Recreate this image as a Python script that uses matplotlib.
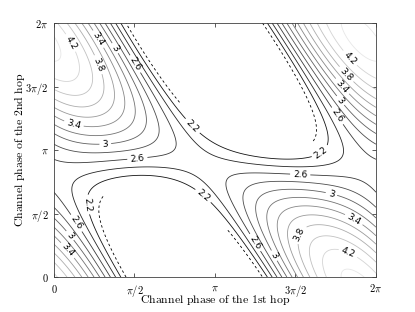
import numpy as np
import matplotlib.pyplot as plt

plt.rcParams['mathtext.fontset'] = 'cm'

# points (phases in units of pi) and their level
phase1 = [0.068, 0.286, 0.39, 0.52, 0.27, 0.12, 0.32, 0.845, 0.52,
          0.18, 0.149, 0.118, 0.087,
          1.86, 1.81, 1.78, 1.76, 1.75, 1.66,
          1.53, 1.73, 1.87, 1.54, 1.80,
          0.94, 1.20, 1.32,
          0.46, 1.38, 0.0, 0.0, 0.0, 0.94,
          0.72, 0.72, 1.06, 1.14, 1.06, 0.10, 0.40, 1.30, 1.78,
          0.50, 0.66, 0.80, 1.35, 1.49, 1.62, 0.25, 0.33]
phase2 = [1.819, 1.882, 1.81, 1.69, 1.67, 1.19, 1.02, 1.17, 0.906,
          0.567, 0.433, 0.346, 0.213,
          1.75, 1.59, 1.49, 1.37, 1.26, 0.976,
          0.827, 0.69, 0.47, 0.33, 0.11,
          0.66, 0.28, 0.17,
          2.0, 2.0, 0.92, 1.06, 1.24, 0.87,
          0.88, 0.82, 0.96, 0.827, 0.61, 0.75, 0.80, 0.96, 1.13,
          1.86, 1.58, 1.32, 1.92, 1.62, 1.30, 0.42, 0.20]
rate = [4.2, 3.4, 3.0, 2.6, 3.8, 3.4, 3.0, 2.2, 2.6,
        2.2, 2.6, 3.0, 3.4,
        4.2, 3.8, 3.4, 3.0, 2.6, 2.2,
        2.6, 3.0, 3.4, 3.8, 4.2,
        2.2, 2.6, 3.0,
        2.2, 2.2, 2.6, 3.0, 3.4, 2.5,
        2.2, 2.4, 2.2, 2.6, 2.6, 2.2, 2.2, 2.2, 2.2,
        2.0, 2.0, 2.0, 2.0, 2.0, 2.0, 2.0, 2.0]

# where the contour labels go
label_x = [0.068, 0.286, 0.39, 0.52, 0.27, 0.12, 0.32, 0.845, 0.52,
           0.18, 0.149, 0.118, 0.087,
           1.86, 1.81, 1.78, 1.76, 1.75, 1.66,
           1.53, 1.73, 1.87, 1.54, 1.80,
           0.94, 1.26, 1.37]
label_y = [1.819, 1.882, 1.81, 1.69, 1.67, 1.19, 1.02, 1.17, 0.906,
           0.567, 0.433, 0.346, 0.213,
           1.75, 1.59, 1.49, 1.37, 1.26, 0.976,
           0.827, 0.69, 0.47, 0.33, 0.11,
           0.66, 0.28, 0.17]

label_levels = [2.2, 2.6, 3.0, 3.4, 3.8, 4.2]
plain_levels = [2.4, 2.8, 3.2, 3.6, 4.0, 4.4]
rate_floor = 2.0


def basis(t1, t2):
    cols = [np.ones_like(t1)]
    for arg in (t1, t1 + t2, t2, 2 * t1 + t2):
        cols += [np.cos(arg), np.sin(arg)]
    return np.stack(cols, axis=-1)


t1 = np.pi * np.array(phase1)
t2 = np.pi * np.array(phase2)
coef = np.linalg.lstsq(basis(t1, t2), np.array(rate), rcond=None)[0]

grid = np.linspace(0, 2 * np.pi, 401)
T1, T2 = np.meshgrid(grid, grid)
R = basis(T1, T2) @ coef
Z = np.maximum(R, rate_floor)

# the floor line only shows up along the steep flanks in the reference
dR2, dR1 = np.gradient(R, grid, grid)
R_flank = np.ma.masked_where(np.abs(dR1) < 1.5 * np.abs(dR2), R)

fig = plt.figure(figsize=(4.15, 3.12), dpi=100)
ax = fig.add_axes([0.130, 0.112, 0.776, 0.814])

kw = dict(cmap='gray', vmin=2.0, vmax=4.65, linewidths=0.6)
ax.contour(T1, T2, Z, levels=plain_levels, **kw)
cs = ax.contour(T1, T2, Z, levels=label_levels, **kw)
ax.contour(T1, T2, R_flank, levels=[rate_floor], colors='k', linewidths=0.6,
           linestyles=[(0, (3, 3))])

spots = [(np.pi * a, np.pi * b) for a, b in zip(label_x, label_y)]
ax.clabel(cs, manual=spots, fmt='%g', fontsize=6.5, colors='k',
          inline=True, inline_spacing=3)

ticks = [0, np.pi / 2, np.pi, 3 * np.pi / 2, 2 * np.pi]
names = [r'$0$', r'$\pi/2$', r'$\pi$', r'$3\pi/2$', r'$2\pi$']
ax.set_xticks(ticks)
ax.set_xticklabels(names, fontsize=7.5)
ax.set_yticks(ticks)
ax.set_yticklabels(names, fontsize=7.5)
ax.set_xlim(0, 2 * np.pi)
ax.set_ylim(0, 2 * np.pi)
ax.tick_params(direction='in', top=True, right=True, length=3, width=0.6,
               color='0.25', pad=4)
for s in ax.spines.values():
    s.set_linewidth(0.6)
    s.set_color('0.25')

ax.set_xlabel(r'$\mathrm{Channel\ phase\ of\ the\ 1st\ hop}$', fontsize=8.5, labelpad=-4)
ax.set_ylabel(r'$\mathrm{Channel\ phase\ of\ the\ 2nd\ hop}$', fontsize=8.5, labelpad=-1)

fig.savefig('out.png', dpi=100)
